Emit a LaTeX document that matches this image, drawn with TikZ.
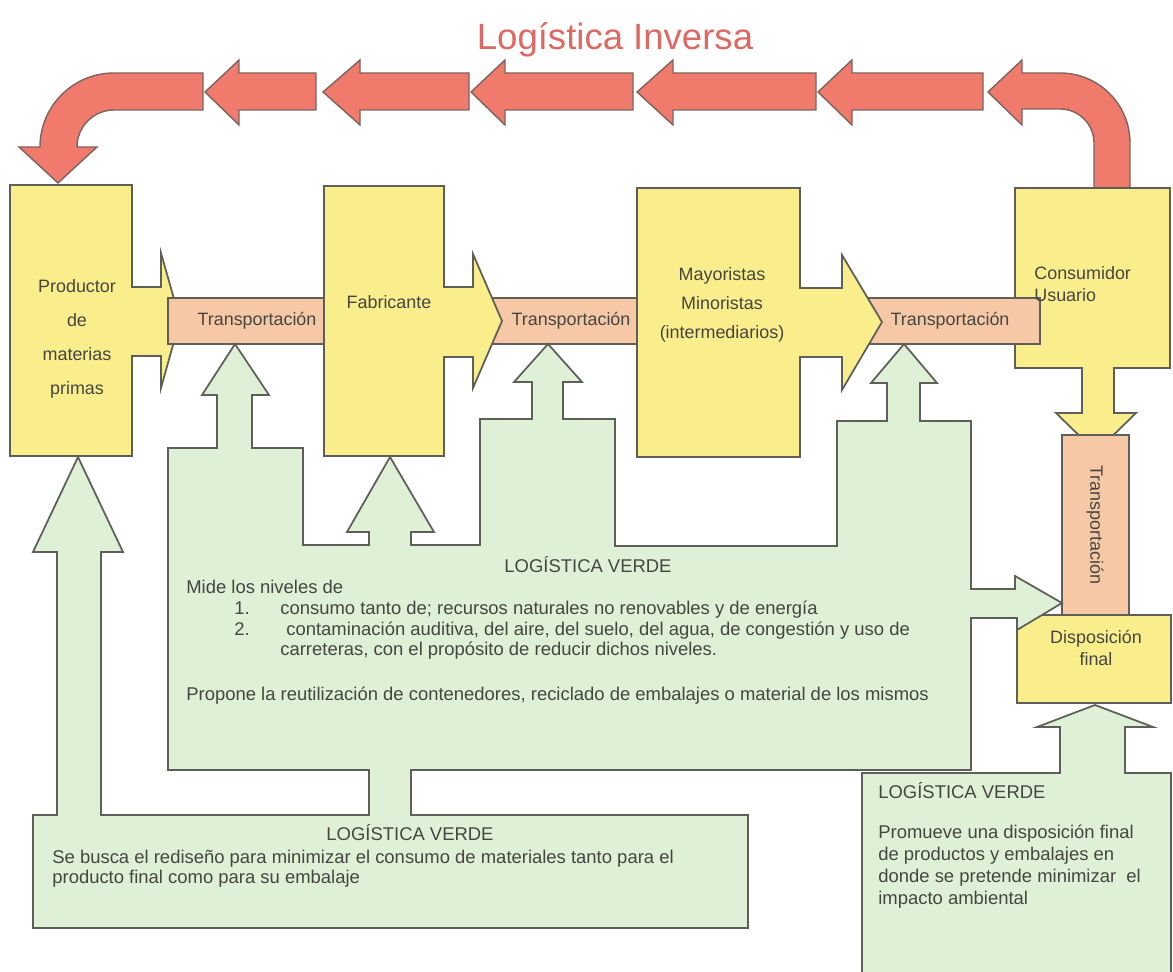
\documentclass[tikz,border=0pt]{standalone}
\usepackage{fontspec}
\setmainfont{Liberation Sans}

\definecolor{amarillo}{RGB}{250,237,140}
\definecolor{naranja}{RGB}{246,200,165}
\definecolor{verdeclaro}{RGB}{222,240,214}
\definecolor{rojoflecha}{RGB}{240,122,108}
\definecolor{borde}{RGB}{95,95,90}
\definecolor{texto}{RGB}{70,70,65}
\definecolor{titulo}{RGB}{222,105,98}

\tikzset{
    caja/.style = {fill = amarillo, draw = borde, line width = 1pt},
    transp/.style = {fill = naranja, draw = borde, line width = 1pt},
    verde/.style = {fill = verdeclaro, draw = borde, line width = 1pt},
    flecha/.style = {fill = rojoflecha, draw = borde!80!rojoflecha, line width = .8pt},
    txt/.style = {font = \fontsize{10.2}{12.3}\selectfont, text = texto, inner sep = 0pt,
                  text height = 1.6ex, text depth = .4ex},
    txtv/.style = {txt, font = \fontsize{10.5}{12.6}\selectfont},
    bloque/.style = {text = texto, inner sep = 0pt, align = center}
}

\begin{document}
\begin{tikzpicture}[x = 0.02cm, y = -0.02cm]
    \useasboundingbox (0,0) rectangle (1173,972);

    % Draw the reverse logistics arrows:
    \foreach \punta/\base/\cola in {205/239/316, 323/360/469, 471/505/633, 637/673/816, 818/852/983}
        \draw [flecha] (\cola,73) -- (\base,73) -- (\base,60) -- (\punta,92)
            -- (\base,125) -- (\base,110) -- (\cola,110) -- cycle;
    \draw [flecha] (203,73) -- (114,73) arc [start angle = -90, end angle = -180, radius = 74]
        -- (19,147) -- (58,183) -- (97,147) -- (77,147)
        arc [start angle = 180, end angle = 270, radius = 37] -- (203,110) -- cycle;
    \draw [flecha] (988,92) -- (1022,60) -- (1022,73) -- (1060,73)
        arc [start angle = -90, end angle = 0, radius = 70] -- (1130,188) -- (1094,188) -- (1094,143)
        arc [start angle = 0, end angle = -90, radius = 34] -- (1022,109) -- (1022,125) -- cycle;
    \node [anchor = base, text = titulo, inner sep = 0pt, font = \fontsize{20.8}{25}\selectfont]
        (titulo) at (615,50) {Logística Inversa};

    % Draw the supply chain:
    \draw [caja] (1015,188) -- (1170,188) -- (1170,368) -- (1114,368) -- (1114,413) -- (1136,413)
        -- (1096,452) -- (1056,413) -- (1082,413) -- (1082,368) -- (1015,368) -- cycle;
    \draw [caja] (10,185) -- (132,185) -- (132,287) -- (161,287) -- (161,253) -- (180,320)
        -- (161,388) -- (161,356) -- (132,356) -- (132,456) -- (10,456) -- cycle;
    \draw [transp] (168,298) rectangle (330,344);
    \draw [transp] (485,298) rectangle (645,344);
    \draw [transp] (860,298) rectangle (1040,344);
    \draw [caja] (324,186) -- (444,186) -- (444,287) -- (473,287) -- (473,254) -- (502,321)
        -- (473,388) -- (473,357) -- (444,357) -- (444,456) -- (324,456) -- cycle;
    \draw [caja] (637,188) -- (800,188) -- (800,288) -- (842,288) -- (842,255) -- (882,322)
        -- (842,390) -- (842,357) -- (800,357) -- (800,457) -- (637,457) -- cycle;
    \draw [transp] (1062,435) rectangle (1129,615);
    \draw [caja] (1017,615) rectangle (1171,703);

    % Draw the green logistics blocks:
    \draw [verde] (168,448) -- (217,448) -- (217,395) -- (202,395) -- (235,344) -- (269,395)
        -- (252,395) -- (252,448) -- (303,448) -- (303,545) -- (369,545) -- (369,532) -- (347,532)
        -- (390,457) -- (434,532) -- (411,532) -- (411,545) -- (480,545) -- (480,419) -- (532,419)
        -- (532,382) -- (514,382) -- (548,344) -- (582,382) -- (563,382) -- (563,419) -- (615,419)
        -- (615,546) -- (837,546) -- (837,421) -- (887,421) -- (887,383) -- (871,383) -- (904,344)
        -- (937,383) -- (920,383) -- (920,421) -- (971,421) -- (971,589) -- (1015,589) -- (1015,576)
        -- (1062,603) -- (1017,630) -- (1017,618) -- (971,618) -- (971,770) -- (411,770) -- (411,815)
        -- (748,815) -- (748,928) -- (33,928) -- (33,815) -- (57,815) -- (57,552) -- (33,552)
        -- (78,457) -- (123,552) -- (101,552) -- (101,815) -- (369,815) -- (369,770) -- (168,770)
        -- cycle;
    \draw [verde] (862,972) -- (862,773) -- (1060,773) -- (1060,727) -- (1037,727) -- (1095,705)
        -- (1153,727) -- (1125,727) -- (1125,773) -- (1171,773) -- (1171,972);

    % Box labels:
    \node [bloque, font = \fontsize{10.2}{19.3}\selectfont] (productor) at (77,339)
        {Productor\\de\\materias\\primas};
    \node [txt] (fabricante) at (389,303) {Fabricante};
    \node [bloque, font = \fontsize{10.2}{16.7}\selectfont] (mayoristas) at (722,305)
        {Mayoristas\\Minoristas\\(intermediarios)};
    \node [bloque, align = left, anchor = west, font = \fontsize{10.2}{12.5}\selectfont]
        (consumidor) at (1034,284) {Consumidor\\Usuario};
    \node [bloque, font = \fontsize{10.2}{13}\selectfont] (disposicion) at (1096,648)
        {Disposición\\final};
    \node [txt] (trans1) at (257,320) {Transportación};
    \node [txt] (trans2) at (571,320) {Transportación};
    \node [txt] (trans3) at (950,320) {Transportación};
    \node [txt, rotate = -90] (trans4) at (1096,525) {Transportación};

    % Green logistics texts:
    \node [txtv] (verdeA) at (588,567) {LOGÍSTICA VERDE};
    \node [txtv, anchor = west] (verdeA1) at (186,588) {Mide los niveles de};
    \node [txtv, anchor = west] (num1) at (234,609) {1.};
    \node [txtv, anchor = west] (verdeA2) at (280,609) {consumo tanto de; recursos naturales no renovables y de energía};
    \node [txtv, anchor = west] (num2) at (234,630) {2.};
    \node [txtv, anchor = west] (verdeA3) at (286,630) {contaminación auditiva, del aire, del suelo, del agua, de congestión y uso de};
    \node [txtv, anchor = west] (verdeA4) at (280,650) {carreteras, con el propósito de reducir dichos niveles.};
    \node [txtv, anchor = west] (verdeA5) at (186,695) {Propone la reutilización de contenedores, reciclado de embalajes o material de los mismos};

    \node [txtv] (verdeB) at (410,835) {LOGÍSTICA VERDE};
    \node [txtv, anchor = west] (verdeB1) at (52,858) {Se busca el rediseño para minimizar el consumo de materiales tanto para el};
    \node [txtv, anchor = west] (verdeB2) at (52,878) {producto final como para su embalaje};

    \node [txtv, anchor = west] (verdeC) at (878,793) {LOGÍSTICA VERDE};
    \node [txtv, anchor = west] (verdeC1) at (878,833) {Promueve una disposición final};
    \node [txtv, anchor = west] (verdeC2) at (878,855) {de productos y embalajes en};
    \node [txtv, anchor = west] (verdeC3) at (878,877) {donde se pretende minimizar\ \ el};
    \node [txtv, anchor = west] (verdeC4) at (878,899) {impacto ambiental};
\end{tikzpicture}
\end{document}
